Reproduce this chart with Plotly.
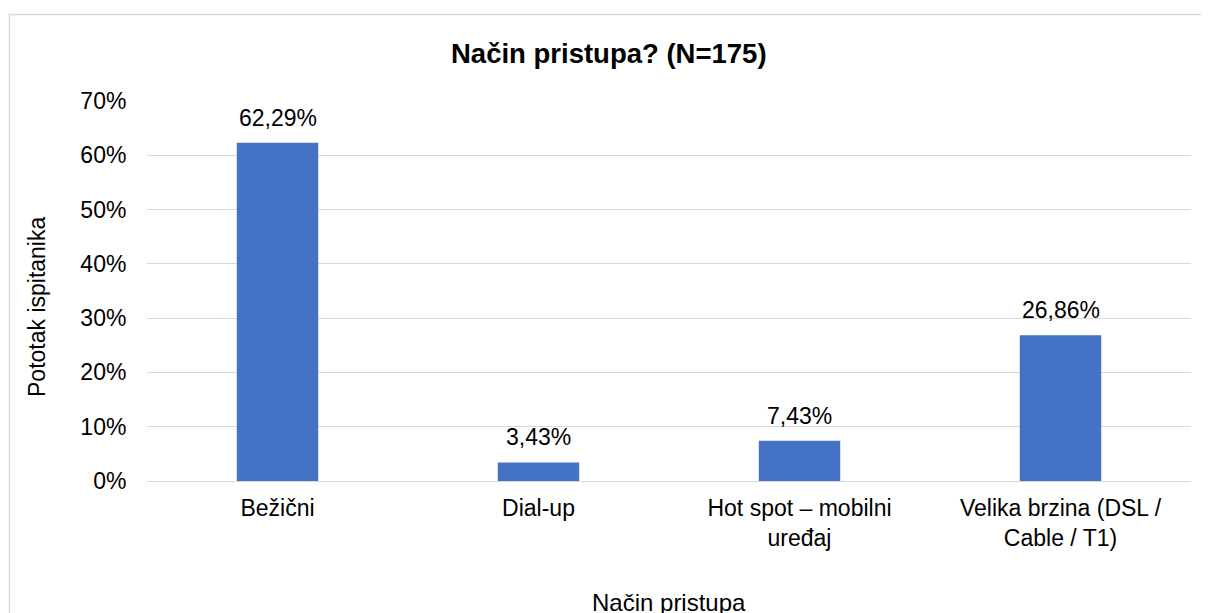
import plotly.graph_objects as go

categories = ["Bežični", "Dial-up", "Hot spot – mobilni<br>uređaj", "Velika brzina (DSL /<br>Cable / T1)"]
values = [62.29, 3.43, 7.43, 26.86]
labels = ["62,29%", "3,43%", "7,43%", "26,86%"]
y_ticks = [0, 10, 20, 30, 40, 50, 60, 70]
y_tick_text = ["0%", "10%", "20%", "30%", "40%", "50%", "60%", "70%"]

FONT = "Arial, Liberation Sans, sans-serif"
OFF = 8  # page body margin offset
W, H = 1209 - OFF, 613 - OFF
# plot area in page pixels: x 147..1191, y 101..481
L = 147 - OFF
T = 101 - OFF
R = W - (1191 - OFF)
B = H - (481 - OFF)
pw = W - L - R
ph = H - T - B

fig = go.Figure()
fig.add_trace(go.Bar(
    x=categories, y=values,
    marker=dict(color="#4472C4", line=dict(width=0)),
    hoverinfo="skip",
))

annotations = []
for c, v, t in zip(categories, values, labels):
    annotations.append(dict(
        x=c, y=v, xref="x", yref="y", text=t, showarrow=False,
        yanchor="bottom", yshift=10,
        font=dict(family=FONT, size=23, color="#000000"),
    ))

def px_to_paper_x(px):
    return (px - OFF - L) / pw

def px_to_paper_y(py):
    return (H - B - (py - OFF)) / ph

annotations.append(dict(
    x=px_to_paper_x(37), y=px_to_paper_y(307), xref="paper", yref="paper",
    text="Pototak ispitanika", textangle=-90, showarrow=False,
    xanchor="center", yanchor="middle",
    font=dict(family=FONT, size=23, color="#000000"),
))
annotations.append(dict(
    x=px_to_paper_x(669), y=px_to_paper_y(602), xref="paper", yref="paper",
    text="Način pristupa", showarrow=False,
    xanchor="center", yanchor="middle",
    font=dict(family=FONT, size=24, color="#000000"),
))
annotations.append(dict(
    x=px_to_paper_x(609), y=px_to_paper_y(53), xref="paper", yref="paper",
    text="<b>Način pristupa? (N=175)</b>", showarrow=False,
    xanchor="center", yanchor="middle",
    font=dict(family=FONT, size=27.5, color="#000000"),
))

fig.update_layout(
    width=W, height=H,
    margin=dict(l=L, r=R, t=T, b=B, pad=0),
    paper_bgcolor="#ffffff", plot_bgcolor="#ffffff",
    showlegend=False,
    bargap=0.688,
    annotations=annotations,
    font=dict(family=FONT, size=23, color="#000000"),
    shapes=[dict(
        type="rect", xref="paper", yref="paper",
        x0=px_to_paper_x(9.5), x1=px_to_paper_x(1225),
        y0=px_to_paper_y(640), y1=px_to_paper_y(14.5),
        line=dict(color="#d9d9d9", width=1.5), fillcolor="rgba(0,0,0,0)",
        layer="below",
    )],
)
fig.update_xaxes(
    showgrid=False, showline=False, zeroline=False,
    tickfont=dict(family=FONT, size=23, color="#000000"),
    ticks="outside", ticklen=6, tickcolor="rgba(0,0,0,0)",
    fixedrange=True,
)
fig.update_yaxes(
    range=[0, 70], tickvals=y_ticks, ticktext=y_tick_text,
    showgrid=True, gridcolor="#d9d9d9", gridwidth=1,
    zeroline=True, zerolinecolor="#d9d9d9", zerolinewidth=1,
    showline=False,
    tickfont=dict(family=FONT, size=23, color="#000000"),
    ticks="outside", ticklen=15, tickcolor="rgba(0,0,0,0)",
    fixedrange=True,
)

fig.write_html("out.html")
